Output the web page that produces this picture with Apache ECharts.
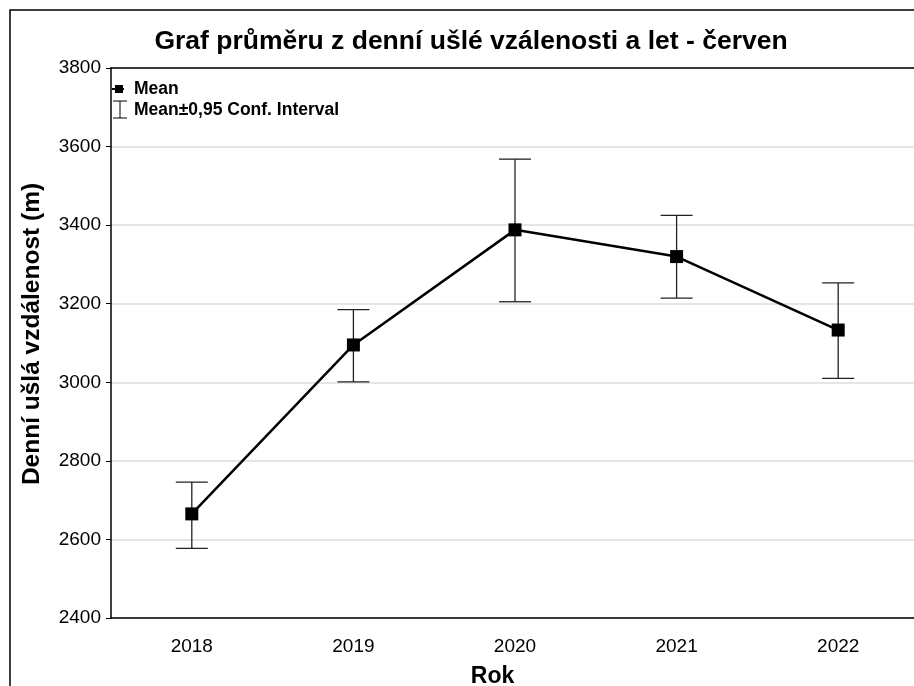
<!DOCTYPE html>
<html>
<head>
<meta charset="utf-8">
<script src="https://cdn.jsdelivr.net/npm/echarts@6/dist/echarts.min.js"></script>
<style>html,body{margin:0;padding:0;background:#fff}#c{width:914px;height:686px}</style>
</head>
<body>
<div id="c"></div>
<script>
const years = ['2018', '2019', '2020', '2021', '2022'];
const means = [2665, 3095, 3388, 3320, 3133];
const ciUpper = [2746, 3185, 3568, 3425, 3253];
const ciLower = [2577, 3001, 3205, 3214, 3010];
const yTicks = { min: 2400, max: 3800, interval: 200 };

const FONT = '"Liberation Sans", Arial, sans-serif';
const chart = echarts.init(document.getElementById('c'), null, { renderer: 'canvas' });

const errData = years.map((y, i) => [i, ciLower[i], ciUpper[i]]);

chart.setOption({
  backgroundColor: '#fff',
  animation: false,
  title: {
    text: 'Graf průměru z denní ušlé vzálenosti a let - červen',
    left: 466, top: 23, textAlign: 'center',
    textStyle: { fontFamily: FONT, fontWeight: 'bold', fontSize: 26.5, color: '#000' }
  },
  grid: { left: 111, top: 68, bottom: 68, right: -5, outerBoundsMode: 'none', containLabel: false },
  xAxis: [{
    type: 'category', data: years, boundaryGap: true, position: 'bottom',
    name: 'Rok', nameLocation: 'middle', nameGap: 47,
    nameTextStyle: { fontFamily: FONT, fontWeight: 'bold', fontSize: 23, color: '#000', padding: [0, 45, 0, 0] },
    axisLine: { lineStyle: { color: '#000', width: 1.5 } },
    axisTick: { inside: true, alignWithLabel: true, length: 5, lineStyle: { color: '#000' } },
    axisLabel: { fontFamily: FONT, fontSize: 19, color: '#000', margin: 19 },
    splitLine: { show: false }
  }, {
    type: 'category', data: years, boundaryGap: true, position: 'top',
    axisLine: { lineStyle: { color: '#000', width: 1.5 } },
    axisTick: { inside: true, alignWithLabel: true, length: 5, lineStyle: { color: '#000' } },
    axisLabel: { show: false },
    splitLine: { show: false }
  }],
  yAxis: {
    type: 'value', min: yTicks.min, max: yTicks.max, interval: yTicks.interval,
    name: 'Denní ušlá vzdálenost (m)', nameLocation: 'middle', nameGap: 66, nameRotate: 90,
    nameTextStyle: { fontFamily: FONT, fontWeight: 'bold', fontSize: 24.5, color: '#000', padding: [0, 0, 0, 18] },
    axisLine: { show: true, lineStyle: { color: '#000', width: 1.5 } },
    axisTick: { show: true, inside: false, length: 5, lineStyle: { color: '#000' } },
    axisLabel: { fontFamily: FONT, fontSize: 19, color: '#000', margin: 10, formatter: function (v) { return String(v); } },
    splitLine: { show: true, lineStyle: { color: '#dcdcdc', width: 1.5 } }
  },
  series: [{
    name: 'Mean±0,95 Conf. Interval',
    type: 'custom',
    z: 2,
    data: errData,
    renderItem: function (params, api) {
      const lo = api.coord([api.value(0), api.value(1)]);
      const hi = api.coord([api.value(0), api.value(2)]);
      const hw = 16;
      const st = { stroke: '#222', lineWidth: 1.3 };
      return {
        type: 'group',
        children: [
          { type: 'line', shape: { x1: hi[0], y1: hi[1], x2: lo[0], y2: lo[1] }, style: st },
          { type: 'line', shape: { x1: hi[0] - hw, y1: hi[1], x2: hi[0] + hw, y2: hi[1] }, style: st },
          { type: 'line', shape: { x1: lo[0] - hw, y1: lo[1], x2: lo[0] + hw, y2: lo[1] }, style: st }
        ]
      };
    }
  }, {
    name: 'Mean',
    type: 'line',
    z: 3,
    data: means,
    symbol: 'rect', symbolSize: 13,
    lineStyle: { color: '#000', width: 2.5 },
    itemStyle: { color: '#000' }
  }],
  graphic: [
    { type: 'rect', shape: { x: 10, y: 10, width: 1000, height: 1000 }, style: { fill: 'none', stroke: '#000', lineWidth: 1.5 }, silent: true },
    // legend: Mean
    { type: 'line', shape: { x1: 112, y1: 89, x2: 124, y2: 89 }, style: { stroke: '#000', lineWidth: 2 } },
    { type: 'rect', shape: { x: 115, y: 85, width: 8, height: 8 }, style: { fill: '#000' } },
    { type: 'text', left: 134, top: 80, style: { text: 'Mean', fontFamily: FONT, fontWeight: 'bold', fontSize: 17.5, fill: '#000' } },
    // legend: CI
    { type: 'line', shape: { x1: 113, y1: 101, x2: 127, y2: 101 }, style: { stroke: '#000', lineWidth: 1 } },
    { type: 'line', shape: { x1: 120, y1: 101, x2: 120, y2: 118 }, style: { stroke: '#000', lineWidth: 1 } },
    { type: 'line', shape: { x1: 113, y1: 118, x2: 127, y2: 118 }, style: { stroke: '#000', lineWidth: 1 } },
    { type: 'text', left: 134, top: 101, style: { text: 'Mean±0,95 Conf. Interval', fontFamily: FONT, fontWeight: 'bold', fontSize: 17.5, fill: '#000' } }
  ]
});
</script>
</body>
</html>
